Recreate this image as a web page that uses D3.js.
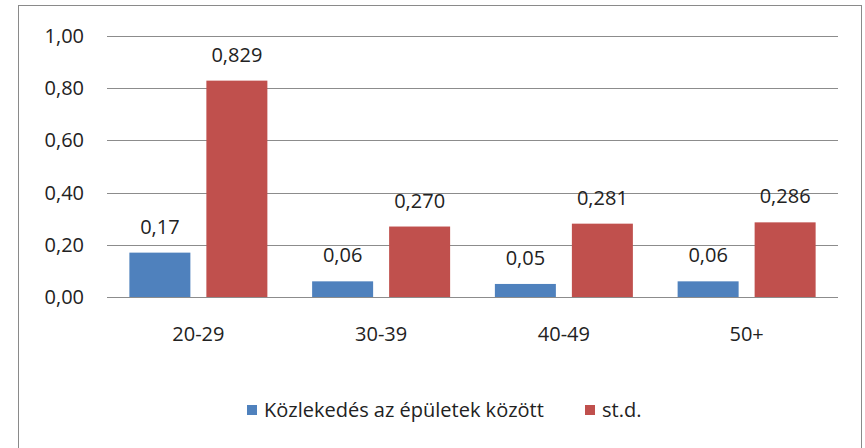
<!DOCTYPE html>
<html>
<head>
<meta charset="utf-8">
<script src="https://cdn.jsdelivr.net/npm/d3@7"></script>
<style>
  body { margin: 0; background: #fff; }
  text { font-family: "Open Sans", "Liberation Sans", sans-serif; fill: #222; }
</style>
</head>
<body>
<div id="chart"></div>
<script>
var categories = ["20-29", "30-39", "40-49", "50+"];
var seriesNames = ["Közlekedés az épületek között", "st.d."];
var communication = [0.17, 0.06, 0.05, 0.06];
var stdDev = [0.829, 0.270, 0.281, 0.286];
var communicationLabels = ["0,17", "0,06", "0,05", "0,06"];
var stdDevLabels = ["0,829", "0,270", "0,281", "0,286"];
var yTicks = [0, 0.2, 0.4, 0.6, 0.8, 1.0];

var width = 865, height = 448;
var colors = ["#4F81BD", "#C0504D"];
var fontSize = "20px";

var svg = d3.select("#chart").append("svg")
  .attr("width", width)
  .attr("height", height);

// outer frame (bottom edge falls outside the picture)
svg.append("rect")
  .attr("x", 18.5).attr("y", 5.5)
  .attr("width", 843).attr("height", 460)
  .attr("fill", "none")
  .attr("stroke", "#8a8a8a")
  .attr("stroke-width", 1);

var plotLeft = 107, plotRight = 838, plotTop = 36, plotBottom = 297;

var x = d3.scaleBand()
  .domain(categories)
  .range([plotLeft, plotRight]);

var y = d3.scaleLinear()
  .domain([0, 1])
  .range([plotBottom, plotTop]);

// gridlines
svg.append("g").selectAll("line")
  .data(yTicks)
  .enter().append("line")
  .attr("x1", plotLeft).attr("x2", plotRight)
  .attr("y1", function(d) { return Math.round(y(d)) + 0.5; })
  .attr("y2", function(d) { return Math.round(y(d)) + 0.5; })
  .attr("stroke", "#8c8c8c")
  .attr("stroke-width", 1);

// y axis labels
var yAxis = d3.axisLeft(y)
  .tickValues(yTicks)
  .tickSize(0)
  .tickPadding(0)
  .tickFormat(function(d) { return d3.format(".2f")(d).replace(".", ","); });

var yg = svg.append("g")
  .attr("transform", "translate(84,0)")
  .call(yAxis);
yg.select(".domain").remove();
yg.selectAll("text")
  .attr("font-family", null)
  .style("font-size", fontSize)
  .attr("fill", "#222");

var barWidth = 61;
var offsets = [-38.5, 38.5];
var series = [
  { values: communication, labels: communicationLabels },
  { values: stdDev, labels: stdDevLabels }
];

series.forEach(function(s, si) {
  var g = svg.append("g");
  g.selectAll("rect")
    .data(s.values)
    .enter().append("rect")
    .attr("x", function(d, i) { return x(categories[i]) + x.bandwidth() / 2 + offsets[si] - barWidth / 2; })
    .attr("y", function(d) { return y(d); })
    .attr("width", barWidth)
    .attr("height", function(d) { return y(0) - y(d); })
    .attr("fill", colors[si]);

  g.selectAll("text")
    .data(s.values)
    .enter().append("text")
    .attr("x", function(d, i) { return x(categories[i]) + x.bandwidth() / 2 + offsets[si]; })
    .attr("y", function(d) { return y(d) - 19; })
    .attr("text-anchor", "middle")
    .style("font-size", fontSize)
    .text(function(d, i) { return s.labels[i]; });
});

// x axis labels
var xAxis = d3.axisBottom(x).tickSize(0).tickPadding(0);
var xg = svg.append("g")
  .attr("transform", "translate(0,327)")
  .call(xAxis);
xg.select(".domain").remove();
xg.selectAll("text")
  .style("font-size", fontSize)
  .attr("fill", "#222");

// legend
var legendItems = [
  { name: seriesNames[0], color: colors[0], x: 247 },
  { name: seriesNames[1], color: colors[1], x: 585 }
];
var legend = svg.append("g");
legend.selectAll("rect")
  .data(legendItems)
  .enter().append("rect")
  .attr("x", function(d) { return d.x; })
  .attr("y", 405)
  .attr("width", 10).attr("height", 10)
  .attr("fill", function(d) { return d.color; });
legend.selectAll("text")
  .data(legendItems)
  .enter().append("text")
  .attr("x", function(d) { return d.x + 17; })
  .attr("y", 417)
  .style("font-size", fontSize)
  .text(function(d) { return d.name; });
</script>
</body>
</html>
